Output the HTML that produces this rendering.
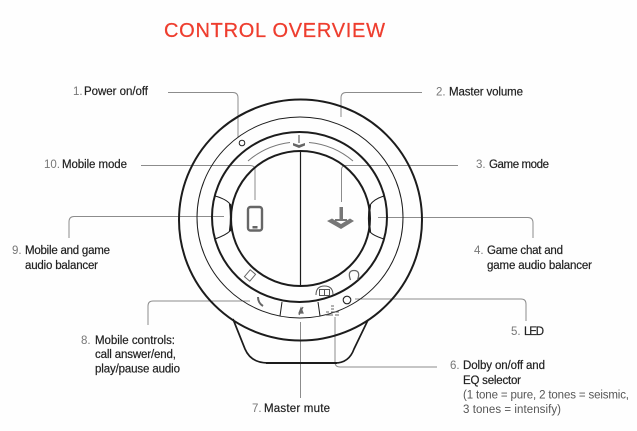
<!DOCTYPE html>
<html><head><meta charset="utf-8"><style>
html,body{margin:0;padding:0;background:#fff}
svg{display:block;filter:blur(0.3px)}
text{font-family:"Liberation Sans",sans-serif;font-size:11.5px;fill:#222;stroke:#222;stroke-width:.2px}
.n{fill:#777;stroke:none}
.g{fill:#555;stroke:none}
</style></head><body>
<svg width="637" height="431" viewBox="0 0 637 431" xmlns="http://www.w3.org/2000/svg">
<rect width="637" height="431" fill="#fefefe"/>
<text x="164" y="37" textLength="221" style="font-size:20px;fill:#ee3d2e;stroke:#ee3d2e;stroke-width:.25px">CONTROL OVERVIEW</text>

<!-- connectors -->
<g fill="none" stroke="#8c8c8c" stroke-width="1">
<path d="M168 92.500H233Q238 92.500 238 98V137"/>
<path d="M422 92.500H346Q341 92.500 341 98V117"/>
<path d="M458 165.500H346Q341.500 165.500 341.500 170V202"/>
<path d="M141 165.500H250Q255 165.500 255 170V200"/>
<path d="M224 216.500H74Q69 216.500 69 222V238"/>
<path d="M378 217.500H528Q533 217.500 533 223V238"/>
<path d="M355 299H521Q526 299 526 304V321"/>
<path d="M335 317V362Q335 367 340 367H437"/>
<path d="M300.500 322V398"/>
<path d="M250 301H153Q148 301 148 306V325"/>
</g>

<!-- base -->
<path d="M233 319L245 349Q251 363 268 363H335Q349 363 354 349L368 320" fill="none" stroke="#1c1c1c" stroke-width="1.700"/>
<path d="M266 363H337" stroke="#1c1c1c" stroke-width="2"/>

<!-- rings -->
<g fill="none" stroke="#1c1c1c">
<ellipse cx="300.500" cy="220" rx="121.500" ry="120.500" stroke-width="2"/>
<ellipse cx="300" cy="217.500" rx="103" ry="100.500" stroke-width="1"/>
<ellipse cx="299.500" cy="217" rx="87.500" ry="85" stroke-width="2"/>
<ellipse cx="300.500" cy="218.500" rx="69.500" ry="67.500" stroke-width="2"/>
<path d="M300.500 151V286" stroke-width="1.200"/>
<path d="M215 196Q226 199 230 204Q232 217 230 231Q226 235 215 239" stroke-width="1"/>
<path d="M384 196Q374 199 370 205Q368 218 370 232Q374 236 384 239" stroke-width="1"/>
<path d="M230 204Q232 217 230 231" stroke-width="2.200"/>
<path d="M370 205Q368 218 370 232" stroke-width="2.200"/>
<path d="M282 302L280 316" stroke-width="1"/>
<path d="M318 302L320 316" stroke-width="1"/>
</g>

<!-- arc over game mode -->
<path d="M248 161A78 76 0 0 1 290 142.500" fill="none" stroke="#777" stroke-width="1"/>
<path d="M309 142.500A78 76 0 0 1 353 161" fill="none" stroke="#777" stroke-width="1"/>

<!-- small joystick -->
<path d="M299 135V143" stroke="#666" stroke-width="1.200"/>
<path d="M293 143L299 145L305 143L305 145.500L299 148L293 145.500Z" fill="#666"/>

<!-- power + LED -->
<circle cx="242" cy="143" r="2.800" fill="none" stroke="#222" stroke-width="1"/>
<circle cx="347" cy="300" r="3.800" fill="none" stroke="#222" stroke-width="1.100"/>

<!-- phone -->
<rect x="248" y="207" width="14" height="23.500" rx="2.500" fill="none" stroke="#666" stroke-width="2.400"/>
<rect x="252.500" y="226" width="5" height="2.500" fill="#666"/>

<!-- joystick -->
<rect x="339.500" y="207" width="3.500" height="13" fill="#777"/>
<rect x="335" y="219" width="12" height="2" fill="#777"/>
<path d="M327 221L332 218.500L341 224L350 218.500L354 221L341 229Z" fill="#777"/>

<!-- small icons -->
<rect x="-3.500" y="-4.500" width="7" height="9" transform="translate(250 275.500) rotate(40)" fill="none" stroke="#666" stroke-width="1"/>
<path d="M350.500 280Q347 270.500 354 270.500Q361 270.500 357.500 280" fill="none" stroke="#666" stroke-width="1.300"/>
<path d="M316 295Q316 286 324.500 286Q333 286 333 295" fill="none" stroke="#555" stroke-width="1"/>
<rect x="319.500" y="289.500" width="5" height="6" fill="none" stroke="#555" stroke-width="1"/>
<rect x="324.500" y="289.500" width="5" height="6" fill="none" stroke="#555" stroke-width="1"/>
<path d="M258 297Q258 303 263 306" fill="none" stroke="#666" stroke-width="2"/>
<path d="M303 307L299 315M301 308L299 313L303 313Z" fill="#666" stroke="#666" stroke-width="1.200"/>
<path d="M326 312H329M326 315H333M331 309H334M331 312H334M331 306H334M335 312H339M335 315H339" fill="none" stroke="#666" stroke-width="1"/>

<!-- labels -->
<text class="n" x="73" y="95">1.</text>
<text x="84" y="95" textLength="64">Power on/off</text>
<text class="n" x="44" y="168">10.</text>
<text x="62" y="168" textLength="65">Mobile mode</text>
<text class="n" x="12" y="254">9.</text>
<text x="25" y="254" textLength="85">Mobile and game</text>
<text x="25" y="269" textLength="73">audio balancer</text>
<text class="n" x="81" y="344">8.</text>
<text x="95" y="344" textLength="80">Mobile controls:</text>
<text x="95" y="358" textLength="81">call answer/end,</text>
<text x="95" y="372.500" textLength="85">play/pause audio</text>
<text class="n" x="436" y="95.500">2.</text>
<text x="449" y="95.500" textLength="74">Master volume</text>
<text class="n" x="476" y="168">3.</text>
<text x="489" y="168" textLength="60">Game mode</text>
<text class="n" x="474" y="254">4.</text>
<text x="487" y="254" textLength="76">Game chat and</text>
<text x="487" y="269" textLength="105">game audio balancer</text>
<text class="n" x="511" y="335">5.</text>
<text x="524" y="335" textLength="20">LED</text>
<text class="n" x="450" y="369">6.</text>
<text x="463" y="369" textLength="82">Dolby on/off and</text>
<text x="463" y="384" textLength="58">EQ selector</text>
<text class="g" x="463" y="398.500" textLength="166">(1 tone = pure, 2 tones = seismic,</text>
<text class="g" x="463" y="413" textLength="98">3 tones = intensify)</text>
<text class="n" x="252" y="412">7.</text>
<text x="264" y="412" textLength="66">Master mute</text>
</svg>
</body></html>
